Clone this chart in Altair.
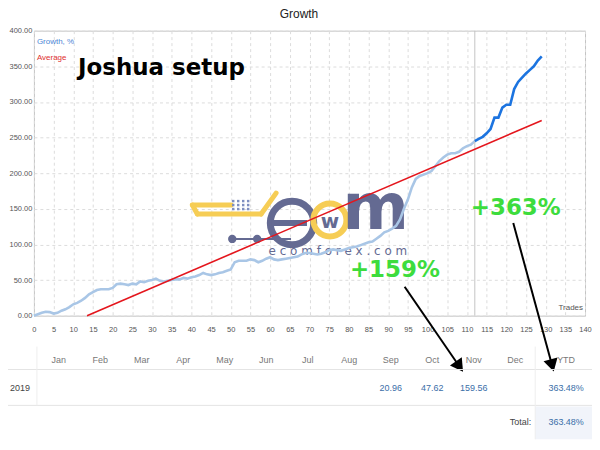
import altair as alt
import pandas as pd

# ---------------- data ----------------
trades_light = list(range(0, 113))
growth_light = [
    0, 2, 4, 5.5, 5, 3, 4, 7, 9, 12,
    16, 18, 21, 25, 30, 33, 36, 37, 37, 37,
    39, 44, 45, 44, 43, 45, 44, 48, 47, 49,
    50, 52, 49, 48, 49, 50, 51, 51, 53, 52,
    54, 55, 57, 60, 58, 57, 58, 60, 61, 63,
    65, 75, 77, 77, 77, 79, 78, 75, 77, 80,
    82, 79, 78, 79, 80, 81, 82, 83, 86, 88,
    88, 87, 86, 87, 89, 92, 93, 92, 91, 93,
    95, 96, 97, 99, 101, 103, 104, 108, 112, 117,
    119, 122, 126, 135, 150, 163, 180, 192, 196, 198,
    200, 203, 210, 217, 222, 226, 228, 228, 230, 235,
    238, 240, 245,
]
trades_dark = list(range(112, 130))
growth_dark = [245, 248, 251, 256, 262, 278, 278, 292, 296, 296,
               318, 328, 334, 340, 345, 350, 358, 364]
avg_trades = [13.5, 129]
avg_values = [0, 274]
split_trade = [112]

months = ["Jan", "Feb", "Mar", "Apr", "May", "Jun",
          "Jul", "Aug", "Sep", "Oct", "Nov", "Dec"]
month_values = ["", "", "", "", "", "", "", "", "20.96", "47.62", "159.56", ""]
ytd_header = "YTD"
ytd_value = "363.48%"
year_label = "2019"
total_label = "Total:"
total_value = "363.48%"

note_labels = ["+159%", "+363%"]
note_trades = [91.7, 122.4]
note_values = [64, 151]

x_ticks = list(range(0, 145, 5))
y_ticks = list(range(0, 401, 50))

SMALL = "Liberation Sans"
BOLD = "DejaVu Sans"

# plot-area origin on the page (for decoration placement)
OX, OY = 34, 30

# ---------------- helpers ----------------
def one(text=""):
    return pd.DataFrame({"t": [text]})

def txt(text, x, y, **kw):
    return alt.Chart(one(text)).mark_text(**kw).encode(
        x=alt.value(x - OX), y=alt.value(y - OY), text="t:N")

def seg(x1, y1, x2, y2, **kw):
    return alt.Chart(one()).mark_rule(**kw).encode(
        x=alt.value(x1 - OX), y=alt.value(y1 - OY),
        x2=alt.value(x2 - OX), y2=alt.value(y2 - OY))

def dot(x, y, **kw):
    return alt.Chart(one()).mark_point(**kw).encode(
        x=alt.value(x - OX), y=alt.value(y - OY))

# ---------------- main plot ----------------
xax = alt.Axis(values=x_ticks, title=None, grid=True, gridDash=[3, 3],
               gridColor="#dcdcdc", ticks=False, domain=False, labelFlush=False,
               labelOverlap=False, labelFontSize=7.5, labelColor="#555",
               labelFont=SMALL, labelPadding=10)
yax = alt.Axis(values=y_ticks, title=None, grid=True, gridDash=[3, 3],
               gridColor="#dcdcdc", ticks=False, domain=False, format=".2f",
               labelOverlap=False, labelFontSize=7.5, labelColor="#555",
               labelFont=SMALL, labelPadding=2)
xs = alt.Scale(domain=[0, 140], nice=False)
ys = alt.Scale(domain=[0, 400], nice=False)

df_light = pd.DataFrame({"trade": trades_light, "growth": growth_light})
df_dark = pd.DataFrame({"trade": trades_dark, "growth": growth_dark})
df_avg = pd.DataFrame({"trade": avg_trades, "growth": avg_values})
df_split = pd.DataFrame({"trade": split_trade})
df_notes = pd.DataFrame({"trade": note_trades, "growth": note_values, "label": note_labels})

light = alt.Chart(df_light).mark_line(color="#a9c6e6", strokeWidth=2.6).encode(
    x=alt.X("trade:Q", scale=xs, axis=xax), y=alt.Y("growth:Q", scale=ys, axis=yax))
dark = alt.Chart(df_dark).mark_line(color="#1c74e0", strokeWidth=2.6).encode(
    x=alt.X("trade:Q", scale=xs, axis=xax), y=alt.Y("growth:Q", scale=ys, axis=yax))
avg = alt.Chart(df_avg).mark_line(color="#e4161d", strokeWidth=1.6).encode(
    x=alt.X("trade:Q", scale=xs, axis=xax), y=alt.Y("growth:Q", scale=ys, axis=yax))
split = alt.Chart(df_split).mark_rule(color="#c4c4c4", strokeWidth=1).encode(
    x=alt.X("trade:Q", scale=xs, axis=xax))
notes = alt.Chart(df_notes).mark_text(font=BOLD, fontWeight="bold", fontSize=23,
                                      color="#3ddc3d").encode(
    x=alt.X("trade:Q", scale=xs, axis=xax), y=alt.Y("growth:Q", scale=ys, axis=yax),
    text="label:N")

# ---------------- watermark logo (approx.) ----------------
Y = "#f6cd55"
S = "#646a92"
logo = [
    seg(193, 205, 232, 205, color=Y, strokeWidth=5, strokeCap="round"),
    seg(193, 205, 198, 214, color=Y, strokeWidth=5, strokeCap="round"),
    seg(198, 214, 262, 214, color=Y, strokeWidth=5, strokeCap="round"),
    seg(262, 214, 277, 193, color=Y, strokeWidth=5, strokeCap="round"),
    seg(233, 239, 292, 239, color=S, strokeWidth=2),
    dot(233, 239, shape="circle", filled=True, color=S, size=70, opacity=1),
    dot(258, 239, shape="circle", filled=True, color=S, size=70, opacity=1),
    dot(293, 223, shape="circle", filled=False, color=S, size=1900, strokeWidth=7, opacity=1),
    seg(272, 223, 308, 223, color=S, strokeWidth=6),
    dot(331, 220, shape="circle", filled=False, color=Y, size=1100, strokeWidth=6, opacity=1),
    txt("w", 331, 222, font=BOLD, fontWeight="bold", fontSize=20, color=S),
    txt("m", 377, 242, font=BOLD, fontWeight="bold", fontSize=64, color=S, baseline="bottom"),
    txt("e c o m f o r e x . c o m", 339, 251, font=BOLD, fontSize=12, color=S),
]
for i in range(4):
    for j in range(3):
        logo.append(dot(234 + 5 * i, 201 + 4 * j, shape="square", filled=True,
                        color="#7f8fc0", size=6, opacity=1))

# ---------------- texts / annotations ----------------
annos = [
    txt("Growth", 300, 13, font=SMALL, fontSize=12, color="#222"),
    txt("Growth, %", 37, 41, font=SMALL, fontSize=8, color="#4a86d6", align="left"),
    txt("Average", 37, 57, font=SMALL, fontSize=8, color="#e03030", align="left"),
    txt("Joshua setup", 162, 67, font=BOLD, fontWeight="bold", fontSize=23, color="#000"),
    txt("Trades", 585, 308, font=SMALL, fontSize=8, color="#555", align="right"),
    seg(406, 287, 461, 367, color="#000", strokeWidth=2),
    dot(461, 367, shape="triangle-down", filled=True, color="#000", size=210,
        angle=325, opacity=1),
    seg(515, 223, 554, 366, color="#000", strokeWidth=2),
    dot(554, 366, shape="triangle-down", filled=True, color="#000", size=210,
        angle=345, opacity=1),
]

# ---------------- table ----------------
df_months = pd.DataFrame({"month": months, "val": month_values})
mscale = alt.Scale(domain=months, range=[59 - OX, 517 - OX], padding=0)
table = [
    alt.Chart(one()).mark_rect(color="#f1f4fa").encode(
        x=alt.value(537 - OX), x2=alt.value(594 - OX),
        y=alt.value(407 - OY), y2=alt.value(440 - OY)),
    seg(8, 370, 594, 370, color="#e4e4e4", strokeWidth=1),
    seg(8, 406, 594, 406, color="#e4e4e4", strokeWidth=1),
    seg(37, 347, 37, 406, color="#eeeeee", strokeWidth=1),
    seg(537, 347, 537, 440, color="#eeeeee", strokeWidth=1),
    alt.Chart(df_months).mark_text(font=SMALL, fontSize=9, color="#777").encode(
        x=alt.X("month:N", scale=mscale, axis=None), y=alt.value(360 - OY), text="month:N"),
    alt.Chart(df_months).mark_text(font=SMALL, fontSize=9, color="#3a6ea8").encode(
        x=alt.X("month:N", scale=mscale, axis=None), y=alt.value(389 - OY), text="val:N"),
    txt(ytd_header, 568, 360, font=SMALL, fontSize=9, color="#777"),
    txt(ytd_value, 568, 389, font=SMALL, fontSize=9, color="#3a6ea8"),
    txt(year_label, 20, 389, font=SMALL, fontSize=9, color="#444"),
    txt(total_label, 533, 423, font=SMALL, fontSize=9, color="#444", align="right"),
    txt(total_value, 568, 423, font=SMALL, fontSize=9, color="#3a6ea8"),
]

main = alt.layer(light, split, dark, avg, notes)

chart = alt.layer(*logo, main, *annos, *table).resolve_scale(
    x="independent"
).properties(
    width=553, height=286,
    autosize=alt.AutoSizeParams(type="none"),
    padding={"left": OX - 8, "top": OY - 8, "right": 7, "bottom": 124},
    background="white",
).configure_view(stroke="#c4c4c4", strokeWidth=1)

chart.save("out.html", embed_options={"renderer": "svg", "actions": False})
